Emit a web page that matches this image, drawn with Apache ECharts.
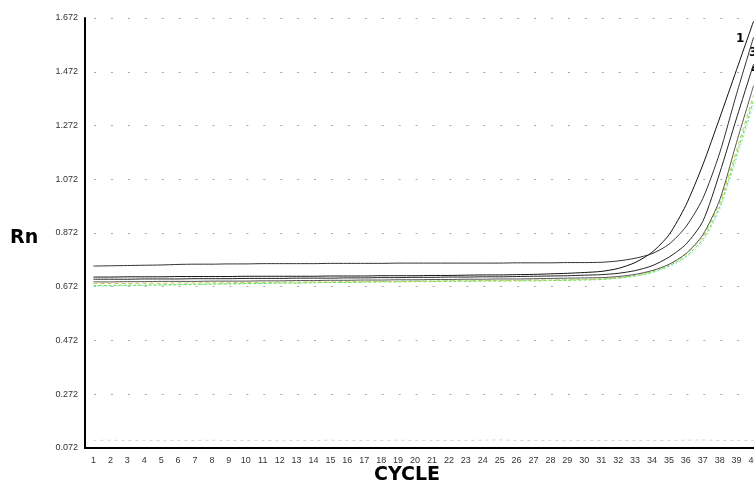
<!DOCTYPE html>
<html>
<head>
<meta charset="utf-8">
<script src="https://cdn.jsdelivr.net/npm/echarts@6/dist/echarts.min.js"></script>
<style>
  html, body { margin: 0; padding: 0; background: #fff; }
  #chart { width: 754px; height: 486px; }
</style>
</head>
<body>
<div id="chart"></div>
<script>
// amplification plot, cycles 1..40
const cycles = ['1','2','3','4','5','6','7','8','9','10','11','12','13','14','15','16','17','18','19','20',
  '21','22','23','24','25','26','27','28','29','30','31','32','33','34','35','36','37','38','39','40'];

const yTicks = [0.072, 0.272, 0.472, 0.672, 0.872, 1.072, 1.272, 1.472, 1.672];

const curveA = [0.749,0.750,0.751,0.752,0.753,0.755,0.756,0.756,0.757,0.757,0.758,0.758,0.758,0.758,0.759,0.759,0.759,0.759,0.760,0.760,
  0.760,0.760,0.760,0.760,0.760,0.761,0.761,0.761,0.762,0.762,0.763,0.768,0.778,0.795,0.830,0.895,1.000,1.170,1.390,1.600];
const curveB = [0.708,0.708,0.709,0.709,0.709,0.710,0.710,0.710,0.710,0.711,0.711,0.711,0.711,0.711,0.712,0.712,0.712,0.713,0.713,0.713,
  0.714,0.714,0.715,0.716,0.716,0.717,0.718,0.720,0.722,0.725,0.729,0.740,0.762,0.800,0.865,0.975,1.125,1.300,1.480,1.660];
const curveC = [0.700,0.700,0.700,0.701,0.701,0.701,0.702,0.702,0.702,0.703,0.703,0.703,0.704,0.704,0.704,0.705,0.705,0.706,0.706,0.707,
  0.707,0.708,0.708,0.709,0.709,0.710,0.711,0.712,0.713,0.715,0.717,0.722,0.732,0.750,0.782,0.830,0.915,1.095,1.300,1.500];
const curveD = [0.690,0.690,0.691,0.691,0.692,0.692,0.692,0.693,0.693,0.693,0.694,0.694,0.695,0.695,0.696,0.696,0.697,0.697,0.698,0.698,
  0.699,0.699,0.700,0.700,0.701,0.701,0.702,0.703,0.704,0.705,0.706,0.710,0.718,0.732,0.755,0.795,0.865,0.995,1.210,1.420];
const curveE = [0.677,0.677,0.678,0.678,0.679,0.680,0.681,0.682,0.683,0.684,0.685,0.686,0.686,0.687,0.688,0.688,0.689,0.690,0.690,0.691,
  0.691,0.692,0.692,0.693,0.693,0.694,0.694,0.695,0.696,0.697,0.699,0.704,0.712,0.726,0.750,0.785,0.848,0.970,1.165,1.365];
const curveF = [0.684,0.684,0.684,0.685,0.685,0.686,0.686,0.687,0.687,0.688,0.688,0.689,0.689,0.690,0.690,0.691,0.691,0.692,0.692,0.693,
  0.693,0.694,0.694,0.695,0.695,0.696,0.697,0.697,0.698,0.699,0.701,0.706,0.715,0.730,0.755,0.792,0.858,0.985,1.180,1.385];
const curveG = [0.674,0.675,0.676,0.677,0.678,0.679,0.680,0.681,0.682,0.683,0.684,0.685,0.686,0.687,0.688,0.689,0.690,0.691,0.692,0.693,
  0.694,0.694,0.695,0.695,0.696,0.696,0.697,0.697,0.698,0.699,0.700,0.704,0.711,0.724,0.746,0.780,0.840,0.960,1.150,1.350];
const curveNtc = [0.100,0.101,0.100,0.100,0.099,0.100,0.100,0.101,0.100,0.100,0.100,0.099,0.100,0.100,0.101,0.100,0.100,0.100,0.101,0.100,
  0.100,0.100,0.100,0.101,0.102,0.100,0.100,0.100,0.099,0.100,0.100,0.100,0.100,0.100,0.100,0.101,0.102,0.100,0.100,0.100];

const chart = echarts.init(document.getElementById('chart'));

const line = (data, color, width, type, opacity) => ({
    type: 'line',
    data: data,
    symbol: 'none',
    smooth: 0.25,
    silent: true,
    lineStyle: { color: color, width: width, type: type || 'solid', opacity: opacity == null ? 1 : opacity }
});

const options = {
    animation: false,
    backgroundColor: '#fff',
    // plot runs a little past the right edge of the window, like the original
    grid: { left: 85, top: 18, width: 677, height: 430, containLabel: false, outerBoundsMode: 'none' },
    xAxis: {
        type: 'category',
        data: cycles,
        boundaryGap: true,
        axisLine: { lineStyle: { color: '#000', width: 2 } },
        axisTick: { show: false },
        axisLabel: { color: '#333', fontSize: 9, fontFamily: 'Liberation Sans', margin: 8, interval: 0 },
        splitLine: { show: false }
    },
    yAxis: {
        type: 'value',
        min: yTicks[0],
        max: yTicks[yTicks.length - 1],
        interval: 0.2,
        axisLine: { show: true, lineStyle: { color: '#000', width: 2 } },
        axisTick: { show: false },
        axisLabel: {
            color: '#333', fontSize: 9, fontFamily: 'Liberation Sans', margin: 7,
            formatter: v => v.toFixed(3)
        },
        splitLine: {
            show: true,
            lineStyle: { color: '#aaa', width: 1, type: [2, 14.925], dashOffset: 7.9 }
        }
    },
    series: [
        line(curveNtc, '#c8c8c8', 1, [3, 4], 0.8),
        line(curveG, '#8fe8d8', 1, [2, 2]),
        line(curveE, '#66dd44', 1, [3, 2]),
        line(curveF, '#c2c84a', 1, [4, 3]),
        line(curveD, '#555', 1),
        line(curveC, '#222', 1),
        line(curveB, '#111', 1),
        line(curveA, '#333', 1)
    ],
    graphic: [
        { type: 'text', left: 10, top: 229, style: { text: 'Rn', font: 'bold 19px "DejaVu Sans"', fill: '#000' } },
        { type: 'text', left: 374, top: 466, style: { text: 'CYCLE', font: 'bold 19px "DejaVu Sans"', fill: '#000' } },
        { type: 'text', left: 736, top: 33, style: { text: '1', font: 'bold 12px "DejaVu Sans"', fill: '#000' } },
        { type: 'text', left: 749, top: 47, style: { text: '3', font: 'bold 12px "DejaVu Sans"', fill: '#000' } },
        { type: 'text', left: 751, top: 64, style: { text: '4', font: 'bold 12px "DejaVu Sans"', fill: '#000' } }
    ]
};

chart.setOption(options);
</script>
</body>
</html>
